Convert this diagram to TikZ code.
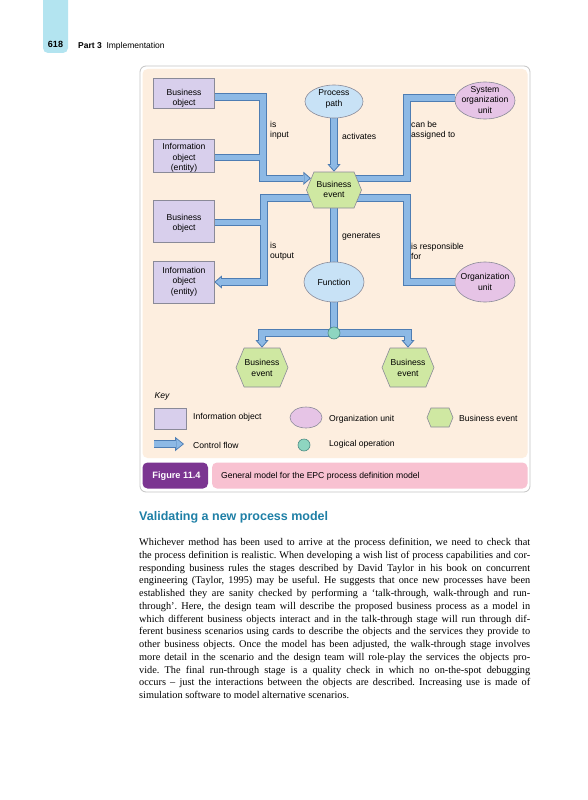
\documentclass[tikz,border=0pt]{standalone}
\usepackage{fontspec}
\setmainfont{Liberation Serif}
\setsansfont{Liberation Sans}
\usetikzlibrary{arrows.meta,shapes.symbols,shapes.geometric}
\pgfdeclarelayer{bg}
\pgfdeclarelayer{flow}
\pgfsetlayers{bg,flow,main}
\frenchspacing
\definecolor{beige}{HTML}{FDEEDF}
\definecolor{framecol}{HTML}{C4C4C4}
\definecolor{lav}{HTML}{D8CFEC}
\definecolor{boxline}{HTML}{8A8A98}
\definecolor{ltblue}{HTML}{C8E2F6}
\definecolor{pinkel}{HTML}{E6C4E6}
\definecolor{hexg}{HTML}{CFE8A2}
\definecolor{logicol}{HTML}{8ED5C0}
\definecolor{logicline}{HTML}{4E8C84}
\definecolor{bandin}{HTML}{8DB9E5}
\definecolor{bandout}{HTML}{4E7DB3}
\definecolor{figpurple}{HTML}{7B3591}
\definecolor{cappink}{HTML}{F8C1D1}
\definecolor{tabcyan}{HTML}{B3E4F0}
\definecolor{headteal}{HTML}{1E7FA6}
\newcommand\jline[1]{\makebox[391pt][s]{#1}}
\newcommand\flowpaths[1]{%
  \draw[band#1, tip#1] (bo1.east |- 0,97) -- (263,97) |- (hex1.153);
  \draw[band#1] (io1.east |- 0,157.5) -- (263,157.5);
  \draw[band#1, tip#1] (hex1.center |- hex1.198) -| (264,282) -- (io2.east);
  \draw[band#1] (bo2.east |- 0,222.5) -- (264,222.5);
  \draw[band#1] (hex1.center |- hex1.27) -| (407,98) -- (sou.west |- 0,98);
  \draw[band#1] (hex1.center |- hex1.-18) -| (407,282) -- (ou.west);
  \draw[band#1, tip#1] (pp.center) -- (hex1.north);
  \draw[band#1] (hex1.center) -- (fn.center);
  \draw[band#1] (fn.center) -- (lo.center);
  \draw[band#1, tip#1] (lo.center) -| (hexL.north);
  \draw[band#1, tip#1] (lo.center) -| (hexR.north);
  \draw[band#1, keytip#1] (ka1) -- (ka2);
}
\begin{document}
\begin{tikzpicture}[x=1pt,y=-1pt,
  dfont/.style={font=\sffamily\fontsize{8.6}{10.3}\selectfont},
  dtext/.style={dfont, align=center, inner sep=0pt},
  ltext/.style={dfont, align=left, inner sep=0pt, anchor=west},
  ibox/.style={draw=boxline, fill=lav, line width=0.6pt, inner sep=0pt, minimum width=61pt},
  bluel/.style={ellipse, draw=boxline, fill=ltblue, line width=0.6pt, inner sep=0pt},
  pinkl/.style={ellipse, draw=boxline, fill=pinkel, line width=0.6pt, inner sep=0pt},
  hexa/.style={signal, signal to=east and west, signal pointer angle=135, draw=boxline, fill=hexg, line width=0.6pt, inner sep=0pt},
  logic/.style={circle, draw=logicline, fill=logicol, line width=0.6pt, inner sep=0pt, minimum size=12pt},
  bando/.style={draw=bandout, line width=7.4pt},
  bandi/.style={draw=bandin, line width=5.4pt},
  tipo/.style={-{Triangle[width=13pt,length=7.5pt,line width=0pt]}},
  tipi/.style={-{Triangle[width=8.6pt,length=5pt,line width=0pt]}, shorten >=1.5pt},
  keytipo/.style={-{Triangle[width=14.5pt,length=9pt,line width=0pt]}},
  keytipi/.style={-{Triangle[width=10.2pt,length=6.3pt,line width=0pt]}, shorten >=1.4pt},
  bodyline/.style={font=\rmfamily\fontsize{10.3}{12.75}\selectfont, inner sep=0pt, anchor=base west},
]
\useasboundingbox (0,0) rectangle (588,800);
\begin{pgfonlayer}{bg}
  \fill[white] (0,0) rectangle (588,800);
  \fill[tabcyan, rounded corners=5pt] (43,-8) rectangle (68,53);
  \filldraw[fill=white, draw=framecol, line width=0.8pt, rounded corners=6pt] (140,66) rectangle (530,492);
  \fill[beige, rounded corners=5pt] (142.5,69) rectangle (527.5,458);
  \fill[figpurple, rounded corners=5pt] (142.5,462.5) rectangle (208,488.5);
  \fill[cappink, rounded corners=5pt] (212,462.5) rectangle (527.5,488.5);
\end{pgfonlayer}

% header
\node[font=\sffamily\bfseries\fontsize{9}{10}\selectfont, inner sep=0pt] (pgno) at (55.5,44) {618};
\node[font=\sffamily\fontsize{8.5}{10}\selectfont, inner sep=0pt, anchor=west] (part) at (78,46.5) {\textbf{Part 3}\ \ Implementation};

% information objects
\node[ibox, minimum height=30pt] (bo1) at (183.5,93.5) {};
\node[dtext] (bo1t) at (184,98) {Business\\object};
\node[ibox, minimum height=33pt] (io1) at (183.5,155.5) {};
\node[dtext] (io1t) at (184,158) {Information\\object\\(entity)};
\node[ibox, minimum height=42pt] (bo2) at (183.5,221) {};
\node[dtext] (bo2t) at (184,223) {Business\\object};
\node[ibox, minimum height=42pt] (io2) at (183.5,282) {};
\node[dtext] (io2t) at (184,281.5) {Information\\object\\(entity)};

% ellipses
\node[bluel, minimum width=58pt, minimum height=33pt] (pp) at (334,101.5) {};
\node[dtext] (ppt) at (334,99) {Process\\path};
\node[pinkl, minimum width=60pt, minimum height=37pt] (sou) at (485,100.5) {};
\node[dtext] (sout) at (485,100) {System\\organization\\unit};
\node[bluel, minimum width=60pt, minimum height=40pt] (fn) at (334,282) {};
\node[dtext] (fnt) at (334,282) {Function};
\node[pinkl, minimum width=60pt, minimum height=40pt] (ou) at (485,282) {};
\node[dtext] (out) at (485,282) {Organization\\unit};

% events
\node[hexa, minimum width=55pt, minimum height=36pt] (hex1) at (334,190) {};
\node[dtext] (hex1t) at (334,189.5) {Business\\event};
\node[logic] (lo) at (334,333) {};
\node[hexa, minimum width=52pt, minimum height=39pt] (hexL) at (262,367.5) {};
\node[dtext] (hexLt) at (262,368) {Business\\event};
\node[hexa, minimum width=52pt, minimum height=39pt] (hexR) at (408,367.5) {};
\node[dtext] (hexRt) at (408,368) {Business\\event};

% connector labels
\node[ltext] (lin) at (270,130.5) {is\\input};
\node[ltext] (lact) at (342,136) {activates};
\node[ltext] (lcan) at (411,130.5) {can be\\assigned to};
\node[ltext] (lout) at (270,251.5) {is\\output};
\node[ltext] (lgen) at (342,237) {generates};
\node[ltext] (lres) at (411,251.5) {is responsible\\for};

% key
\node[font=\sffamily\itshape\fontsize{8.6}{10}\selectfont, inner sep=0pt, anchor=west] (key) at (154.5,396) {Key};
\node[ibox, minimum width=32pt, minimum height=21pt] (kbox) at (170,418.5) {};
\node[ltext] (kboxt) at (193,417) {Information object};
\node[pinkl, minimum width=32pt, minimum height=21pt] (kell) at (306,417.5) {};
\node[ltext] (kellt) at (329,419) {Organization unit};
\node[hexa, minimum width=26pt, minimum height=19pt] (khex) at (440,417.5) {};
\node[ltext] (khext) at (459,418) {Business event};
\coordinate (ka1) at (154,444);
\coordinate (ka2) at (184,444);
\node[ltext] (kat) at (193,445) {Control flow};
\node[logic] (klo) at (304,445) {};
\node[ltext] (klot) at (329,444) {Logical operation};

% caption
\node[font=\sffamily\bfseries\fontsize{9.2}{10}\selectfont, text=white, inner sep=0pt] (fig) at (176.5,476) {Figure 11.4};
\node[dfont, inner sep=0pt, anchor=west] (cap) at (221,476) {General model for the EPC process definition model};

% flows
\begin{pgfonlayer}{flow}
  \flowpaths{o}
  \flowpaths{i}
\end{pgfonlayer}

% text
\node[font=\sffamily\bfseries\fontsize{12.5}{14}\selectfont, text=headteal, inner sep=0pt, anchor=base west] (head) at (139,520.5) {Validating a new process model};
\node[bodyline] (l1) at (139,545.5) {\jline{Whichever method has been used to arrive at the process definition, we need to check that}};
\node[bodyline] (l2) at (139,558.25) {\jline{the process definition is realistic. When developing a wish list of process capabilities and cor-}};
\node[bodyline] (l3) at (139,571) {\jline{responding business rules the stages described by David Taylor in his book on concurrent}};
\node[bodyline] (l4) at (139,583.75) {\jline{engineering (Taylor, 1995) may be useful. He suggests that once new processes have been}};
\node[bodyline] (l5) at (139,596.5) {\jline{established they are sanity checked by performing a ‘talk-through, walk-through and run-}};
\node[bodyline] (l6) at (139,609.25) {\jline{through’. Here, the design team will describe the proposed business process as a model in}};
\node[bodyline] (l7) at (139,622) {\jline{which different business objects interact and in the talk-through stage will run through dif-}};
\node[bodyline] (l8) at (139,634.75) {\jline{ferent business scenarios using cards to describe the objects and the services they provide to}};
\node[bodyline] (l9) at (139,647.5) {\jline{other business objects. Once the model has been adjusted, the walk-through stage involves}};
\node[bodyline] (l10) at (139,660.25) {\jline{more detail in the scenario and the design team will role-play the services the objects pro-}};
\node[bodyline] (l11) at (139,673) {\jline{vide. The final run-through stage is a quality check in which no on-the-spot debugging}};
\node[bodyline] (l12) at (139,685.75) {\jline{occurs – just the interactions between the objects are described. Increasing use is made of}};
\node[bodyline] (l13) at (139,698.5) {simulation software to model alternative scenarios.};
\end{tikzpicture}
\end{document}
